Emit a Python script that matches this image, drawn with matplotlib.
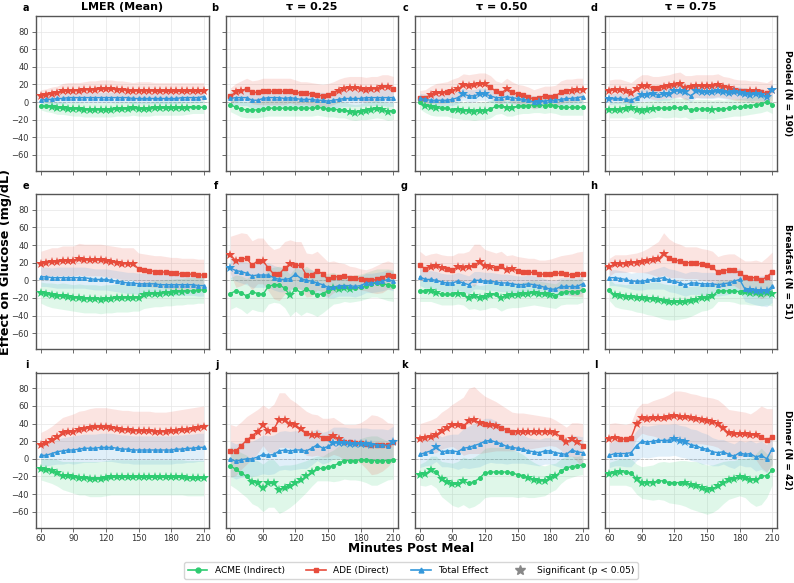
import matplotlib
matplotlib.use('Agg')
import matplotlib.pyplot as plt
from matplotlib.lines import Line2D

minutes = [60, 65, 70, 75, 80, 85, 90, 95, 100, 105, 110, 115, 120, 125, 130, 135,
           140, 145, 150, 155, 160, 165, 170, 175, 180, 185, 190, 195, 200, 205, 210]

row_labels = ['Pooled (N = 190)', 'Breakfast (N = 51)', 'Dinner (N = 42)']
col_titles = ['LMER (Mean)', 'τ = 0.25', 'τ = 0.50', 'τ = 0.75']
panel_letters = ['a', 'b', 'c', 'd', 'e', 'f', 'g', 'h', 'i', 'j', 'k', 'l']
row_keys = ['pooled', 'breakfast', 'dinner']
col_keys = ['lmer', 'q25', 'q50', 'q75']
y_ticks = [-60, -40, -20, 0, 20, 40, 60, 80]
x_ticks = [60, 90, 120, 150, 180, 210]

# ---------------- Pooled ----------------
pooled_lmer_acme = [-4,-5,-6,-7,-7,-8,-8,-8,-9,-9,-9,-9,-9,-9,-8,-8,-8,-7,-8,-8,-8,-7,-7,-7,-7,-7,-7,-7,-6,-6,-6]
pooled_lmer_acme_ci = [5,6,6,7,7,7,8,8,8,8,8,8,8,8,8,8,8,8,8,8,8,8,8,8,8,8,8,7,7,7,7]
pooled_lmer_acme_sig = [0,0,1,1,1,1,1,1,1,1,1,1,1,1,1,1,1,1,1,1,1,1,1,1,1,1,1,1,0,0,0]
pooled_lmer_ade = [7,8,9,10,12,13,13,13,14,14,14,15,15,15,14,14,13,12,13,13,13,12,12,12,12,12,12,12,12,12,12]
pooled_lmer_ade_ci = [7,7,8,8,9,9,9,9,9,10,10,10,10,10,10,10,10,10,10,10,10,10,10,10,10,10,10,10,10,10,10]
pooled_lmer_ade_sig = [1,1,1,1,1,1,1,1,1,1,1,1,1,1,1,1,1,1,1,1,1,1,1,1,1,1,1,1,1,1,1]
pooled_lmer_total = [2,3,3,4,4,5,5,5,5,5,5,5,5,5,5,5,5,4,4,4,4,4,4,4,4,4,5,5,5,5,6]
pooled_lmer_total_ci = [5,5,6,6,6,6,6,6,6,6,6,6,6,6,6,6,6,6,6,6,6,6,6,6,6,6,6,6,6,6,6]
pooled_lmer_total_sig = [0,0,0,0,0,0,0,0,0,0,0,0,0,0,0,0,0,0,0,0,0,0,0,0,0,0,0,0,0,0,0]

pooled_q25_acme = [-3,-6,-8,-9,-9,-9,-8,-7,-7,-7,-7,-7,-7,-7,-7,-7,-6,-7,-8,-8,-9,-9,-11,-12,-11,-10,-9,-8,-9,-11,-10]
pooled_q25_acme_ci = [8,8,9,9,9,9,9,9,9,9,9,9,9,9,9,9,9,9,9,9,9,9,9,9,9,10,10,10,10,10,10]
pooled_q25_acme_sig = [0,0,0,0,0,0,0,0,0,0,0,0,0,0,0,0,0,0,0,0,0,0,1,1,1,1,1,1,1,1,0]
pooled_q25_ade = [7,11,13,15,11,11,12,12,12,12,12,13,11,10,10,9,8,7,8,10,13,15,16,16,15,14,15,15,17,17,15]
pooled_q25_ade_ci = [9,10,11,12,13,14,15,15,15,15,15,14,14,13,13,13,13,13,13,13,13,13,13,13,14,14,14,14,14,14,14]
pooled_q25_ade_sig = [0,1,1,0,0,0,0,0,0,0,0,0,0,0,0,0,0,0,0,0,1,1,1,1,1,1,1,1,1,1,0]
pooled_q25_total = [4,5,5,5,2,2,4,5,5,5,4,5,4,3,3,3,2,2,1,2,3,4,4,4,4,5,5,5,5,5,5]
pooled_q25_total_ci = [8,8,9,9,9,9,9,9,9,9,9,9,9,9,9,9,9,9,9,9,9,9,9,9,9,9,9,9,9,10,10]
pooled_q25_total_sig = [0,0,0,0,0,0,0,0,0,0,0,0,0,0,0,0,0,0,0,0,0,0,0,0,0,0,0,0,0,0,0]

pooled_q50_acme = [0,-4,-6,-7,-7,-7,-9,-9,-10,-10,-11,-10,-10,-8,-5,-4,-7,-7,-5,-4,-4,-3,-3,-4,-3,-4,-6,-6,-6,-6,-6]
pooled_q50_acme_ci = [8,8,9,9,9,9,9,10,10,10,10,10,10,10,9,9,9,9,9,9,9,9,9,9,9,9,9,9,9,9,9]
pooled_q50_acme_sig = [0,1,1,1,0,0,0,1,1,1,1,1,1,0,0,0,1,1,0,0,0,0,0,0,0,0,0,0,0,0,0]
pooled_q50_ade = [5,5,8,10,10,11,13,15,19,18,19,20,20,17,12,10,15,11,9,8,6,3,5,7,6,7,11,13,13,14,14]
pooled_q50_ade_ci = [8,9,10,11,12,12,13,13,13,13,13,13,13,13,12,12,12,12,11,11,11,11,11,11,12,12,13,13,13,13,13]
pooled_q50_ade_sig = [0,0,1,1,1,0,1,1,1,1,1,1,1,0,0,0,1,0,0,0,0,0,0,0,0,0,0,0,1,1,1]
pooled_q50_total = [4,3,2,2,2,2,3,5,9,7,7,9,9,7,5,5,6,5,4,3,2,0,0,1,2,2,3,4,4,5,6]
pooled_q50_total_ci = [6,6,6,6,6,6,7,7,7,7,7,7,7,7,7,7,7,7,7,7,7,7,7,7,7,7,7,7,7,7,7]
pooled_q50_total_sig = [0,0,0,0,0,0,0,0,1,0,0,1,1,0,0,0,0,0,0,0,0,0,1,0,0,0,0,0,0,0,0]

pooled_q75_acme = [-9,-9,-9,-8,-7,-9,-10,-9,-8,-7,-7,-7,-6,-7,-6,-9,-8,-8,-8,-9,-8,-8,-7,-6,-6,-5,-4,-3,-2,0,-3]
pooled_q75_acme_ci = [9,9,9,10,10,10,10,10,10,10,11,11,11,11,11,11,11,11,11,11,11,10,10,10,10,10,10,10,10,10,10]
pooled_q75_acme_sig = [1,1,1,1,1,1,1,1,1,0,0,0,0,0,0,0,0,0,0,1,0,0,0,0,0,0,0,0,0,0,0]
pooled_q75_ade = [13,14,14,12,10,15,18,18,16,16,17,18,19,20,16,17,18,18,18,18,19,17,16,14,13,13,12,12,11,10,14]
pooled_q75_ade_ci = [12,12,12,12,12,12,13,13,13,13,13,13,14,14,14,13,13,13,13,13,13,12,12,12,12,12,12,12,12,12,12]
pooled_q75_ade_sig = [1,1,1,1,1,1,1,1,0,0,1,1,1,1,1,1,1,1,1,1,1,1,1,1,0,0,1,1,0,0,1]
pooled_q75_total = [3,4,4,3,2,5,8,8,9,8,9,9,12,13,11,7,12,11,11,11,12,11,10,11,10,9,8,9,8,6,14]
pooled_q75_total_ci = [6,6,6,6,6,6,7,7,7,7,7,7,7,7,7,7,7,7,7,7,7,7,7,7,7,7,7,7,7,7,7]
pooled_q75_total_sig = [1,0,0,0,0,0,1,1,1,0,1,1,1,1,1,0,1,1,1,1,1,1,1,1,1,1,1,1,1,1,1]

# ---------------- Breakfast ----------------
breakfast_lmer_acme = [-14,-16,-17,-18,-18,-19,-20,-20,-21,-21,-21,-22,-21,-21,-20,-20,-20,-20,-20,-17,-16,-15,-15,-14,-14,-13,-13,-12,-12,-11,-11]
breakfast_lmer_acme_ci = [12,13,14,14,15,15,15,16,16,16,16,16,16,16,16,16,16,15,15,15,15,15,15,15,15,15,15,15,15,15,15]
breakfast_lmer_acme_sig = [1,1,1,1,1,1,1,1,1,1,1,1,1,1,1,1,1,1,1,1,1,1,1,1,1,1,1,0,0,0,0]
breakfast_lmer_ade = [19,20,21,21,22,22,22,24,23,23,23,23,22,21,20,19,19,19,13,12,11,10,10,9,8,8,7,7,7,6,6]
breakfast_lmer_ade_ci = [14,15,16,16,17,17,17,18,18,18,18,18,18,18,18,18,18,18,18,18,18,18,18,18,18,18,18,18,18,18,18]
breakfast_lmer_ade_sig = [1,1,1,1,1,1,1,1,1,1,1,1,1,1,1,1,1,1,0,0,0,0,0,0,0,0,0,0,0,0,0]
breakfast_lmer_total = [4,4,3,3,3,3,3,3,3,2,1,1,1,0,-1,-2,-3,-3,-4,-4,-4,-4,-5,-5,-5,-5,-5,-5,-5,-6,-6]
breakfast_lmer_total_ci = [11,11,11,12,12,12,12,12,12,12,12,12,12,12,12,12,12,12,12,12,12,12,12,12,12,12,12,12,12,12,12]
breakfast_lmer_total_sig = [0,0,0,0,0,0,0,0,0,0,0,0,0,0,0,0,0,0,0,0,0,0,0,0,0,0,0,0,0,0,0]

breakfast_q25_acme = [-15,-12,-14,-18,-13,-15,-16,-7,-5,-5,-9,-17,-10,-14,-10,-13,-17,-15,-12,-9,-10,-9,-10,-9,-8,-6,-4,-3,-4,-5,-6]
breakfast_q25_acme_ci = [18,18,19,20,20,20,20,20,20,21,22,24,25,26,26,25,24,22,20,18,16,15,15,15,15,15,15,16,17,18,18]
breakfast_q25_acme_sig = [0,0,0,0,0,0,0,0,0,0,0,1,0,0,0,0,0,0,0,1,1,1,1,0,0,0,0,0,0,0,0]
breakfast_q25_ade = [29,22,24,25,17,22,22,14,7,7,14,18,17,17,6,6,11,7,1,4,4,5,3,3,1,0,0,1,3,6,5]
breakfast_q25_ade_ci = [21,30,30,28,28,26,26,26,28,30,30,28,27,27,25,24,22,20,20,18,16,14,13,12,12,12,14,16,17,16,15]
breakfast_q25_ade_sig = [1,1,0,0,0,0,1,0,0,0,0,1,0,0,0,0,0,0,0,0,0,0,0,0,0,0,0,0,0,0,0]
breakfast_q25_total = [14,11,10,8,5,6,6,6,3,1,1,2,7,2,0,-1,-3,-5,-8,-8,-6,-6,-6,-7,-6,-3,-3,-2,-1,1,-1]
breakfast_q25_total_ci = [12,12,13,13,13,14,14,14,14,14,14,14,14,13,13,13,12,12,12,12,12,12,12,12,11,11,11,11,11,11,11]
breakfast_q25_total_sig = [1,0,0,0,0,0,0,0,0,0,0,0,0,0,0,0,0,0,0,0,0,0,0,0,0,0,0,0,0,0,0]

breakfast_q50_acme = [-12,-12,-12,-14,-16,-16,-16,-15,-16,-20,-18,-20,-19,-17,-16,-20,-18,-17,-17,-16,-15,-14,-15,-16,-17,-18,-14,-13,-13,-13,-11]
breakfast_q50_acme_ci = [12,12,12,12,12,12,12,12,12,13,14,14,14,14,15,15,14,14,14,14,14,14,14,14,14,14,14,14,14,14,14]
breakfast_q50_acme_sig = [0,0,1,1,0,0,0,1,0,1,1,1,1,1,0,1,1,1,1,1,1,1,1,1,1,0,0,0,0,0,0]
breakfast_q50_ade = [17,13,15,16,14,13,12,15,14,15,17,21,16,15,14,16,12,13,11,10,9,9,7,7,7,8,8,7,6,7,7]
breakfast_q50_ade_ci = [16,15,15,15,15,15,16,16,17,18,24,20,19,18,17,17,16,16,16,16,16,16,16,16,17,18,20,22,24,25,26]
breakfast_q50_ade_sig = [0,0,1,1,1,0,0,1,1,1,0,1,1,1,0,0,1,1,0,0,0,0,0,0,0,0,0,0,0,0,0]
breakfast_q50_total = [4,1,1,0,-2,-3,-3,-1,-3,-5,0,0,-1,-1,-2,-3,-3,-4,-5,-5,-4,-5,-6,-8,-10,-10,-7,-7,-7,-7,-4]
breakfast_q50_total_ci = [10,10,10,10,10,10,10,10,10,10,10,10,10,10,10,10,10,10,10,10,10,10,10,10,10,10,10,10,10,10,10]
breakfast_q50_total_sig = [0,0,0,0,0,0,0,0,0,0,0,0,0,0,0,0,0,0,0,0,0,0,0,0,0,0,0,0,0,0,0]

breakfast_q75_acme = [-11,-17,-18,-19,-19,-20,-20,-21,-21,-22,-24,-25,-25,-25,-25,-24,-22,-20,-20,-18,-12,-12,-12,-12,-13,-13,-14,-14,-15,-14,-15]
breakfast_q75_acme_ci = [12,13,14,14,15,16,17,18,19,20,20,20,20,19,18,17,16,15,14,13,12,12,12,13,14,14,14,14,14,14,14]
breakfast_q75_acme_sig = [0,1,1,1,1,1,1,1,1,1,1,1,1,1,1,1,1,1,1,1,0,0,0,0,0,1,1,1,1,1,1]
breakfast_q75_ade = [15,19,19,19,20,20,21,22,23,24,30,25,23,22,20,20,20,18,17,15,9,11,12,12,8,4,3,3,0,4,9]
breakfast_q75_ade_ci = [10,10,10,10,10,11,12,14,17,20,24,22,20,19,18,18,18,18,18,18,18,18,18,18,18,18,19,20,21,22,23]
breakfast_q75_ade_sig = [1,1,1,1,1,1,1,1,1,1,1,0,0,0,0,0,0,0,0,0,0,0,0,0,0,0,0,0,0,0,0]
breakfast_q75_total = [3,3,2,1,-1,-1,-1,0,1,2,3,0,-1,-3,-5,-3,-3,-4,-4,-4,-5,-4,-3,-1,1,-10,-11,-12,-12,-12,-7]
breakfast_q75_total_ci = [9,9,9,9,9,10,10,10,11,12,13,13,13,13,13,13,13,13,13,13,13,13,13,13,13,14,15,16,17,18,18]
breakfast_q75_total_sig = [0,0,0,0,0,0,0,0,0,0,0,0,0,0,0,0,0,0,0,0,0,0,0,0,0,0,1,1,1,1,0]

# ---------------- Dinner ----------------
dinner_lmer_acme = [-12,-13,-14,-16,-19,-20,-21,-22,-22,-23,-23,-23,-22,-21,-21,-21,-21,-21,-21,-21,-21,-21,-21,-21,-21,-21,-21,-22,-22,-22,-22]
dinner_lmer_acme_ci = [12,13,14,15,16,17,18,19,19,20,20,20,20,20,20,20,20,20,20,20,20,20,20,20,20,20,20,20,20,20,20]
dinner_lmer_acme_sig = [1,1,1,1,1,1,1,1,1,1,1,1,1,1,1,1,1,1,1,1,1,1,1,1,1,1,1,1,1,1,1]
dinner_lmer_ade = [16,18,21,25,29,30,31,33,34,35,36,36,36,35,34,33,33,32,32,32,32,31,31,31,32,32,33,33,34,35,36]
dinner_lmer_ade_ci = [14,15,16,17,18,19,20,21,21,22,22,22,22,22,22,22,22,22,22,22,22,22,22,22,22,23,23,24,24,24,24]
dinner_lmer_ade_sig = [1,1,1,1,1,1,1,1,1,1,1,1,1,1,1,1,1,1,1,1,1,1,1,1,1,1,1,1,1,1,1]
dinner_lmer_total = [4,4,6,8,9,10,10,11,12,12,12,13,13,13,12,11,11,10,10,10,10,10,10,10,10,11,11,12,12,13,13]
dinner_lmer_total_ci = [12,12,13,14,15,15,16,16,16,16,16,16,16,16,16,16,16,16,16,16,16,16,16,16,16,16,16,16,16,16,16]
dinner_lmer_total_sig = [0,0,0,0,0,0,0,0,0,0,0,0,0,0,0,0,0,0,0,0,0,0,0,0,0,0,0,0,0,0,0]

dinner_q25_acme = [-8,-12,-16,-20,-26,-28,-33,-28,-28,-35,-33,-31,-28,-24,-20,-15,-11,-11,-9,-8,-5,-2,-2,-2,-1,-1,-2,-2,-2,-2,-1]
dinner_q25_acme_ci = [22,22,23,24,25,26,27,27,27,27,26,24,22,20,18,16,14,14,16,18,20,21,22,22,24,26,28,28,25,22,22]
dinner_q25_acme_sig = [0,0,0,0,1,1,1,1,1,1,1,1,1,1,1,1,0,0,0,0,0,0,0,0,0,0,0,0,0,0,0]
dinner_q25_ade = [9,9,15,21,26,31,38,32,34,44,44,40,38,34,29,27,27,24,24,26,23,19,19,18,18,17,16,16,16,16,19]
dinner_q25_ade_ci = [30,28,27,27,26,25,23,25,28,31,31,28,26,25,25,24,23,22,22,21,20,20,20,21,23,28,34,33,30,25,21]
dinner_q25_ade_sig = [0,0,0,0,0,1,1,1,0,1,1,1,1,1,0,1,1,0,0,1,1,0,0,0,0,0,0,0,0,0,0]
dinner_q25_total = [0,-3,-1,0,0,2,5,4,5,9,10,9,10,10,9,12,16,12,14,18,18,18,17,17,17,17,16,16,16,15,19]
dinner_q25_total_ci = [20,20,20,20,20,21,22,22,22,22,22,22,22,21,20,19,18,18,18,18,18,18,18,18,18,18,18,18,18,18,18]
dinner_q25_total_sig = [0,0,0,0,0,0,0,0,0,0,0,0,0,0,0,0,0,0,0,1,1,1,1,1,1,1,1,0,0,0,1]

dinner_q50_acme = [-18,-17,-13,-15,-23,-26,-29,-29,-25,-28,-26,-22,-16,-15,-15,-15,-15,-16,-18,-19,-22,-24,-25,-25,-22,-20,-14,-10,-9,-8,-7]
dinner_q50_acme_ci = [12,14,16,18,20,22,24,26,27,28,28,28,28,28,28,28,28,27,26,24,22,20,18,17,16,15,14,13,12,11,11]
dinner_q50_acme_sig = [1,1,1,0,1,1,1,1,1,0,0,0,0,0,0,0,0,0,0,0,1,1,1,1,1,1,0,0,0,0,0]
dinner_q50_ade = [23,24,25,27,32,35,38,38,37,43,44,41,39,38,37,35,33,31,31,31,31,31,31,31,31,29,25,19,22,19,15]
dinner_q50_ade_ci = [17,18,19,20,21,22,24,28,33,37,38,35,32,30,28,26,24,22,21,21,20,19,18,17,16,15,15,17,19,22,25]
dinner_q50_ade_sig = [1,1,1,1,1,1,1,1,0,1,1,1,0,1,1,0,0,0,1,1,1,1,1,1,1,1,0,1,1,1,0]
dinner_q50_total = [5,7,9,13,8,9,9,8,12,13,15,17,20,21,19,17,14,13,12,11,9,8,7,9,9,7,6,5,10,8,7]
dinner_q50_total_ci = [15,15,16,16,17,18,19,20,22,24,25,26,26,25,24,22,20,18,17,16,15,15,15,15,15,15,16,17,17,18,18]
dinner_q50_total_sig = [0,0,0,1,0,0,0,0,0,0,0,0,0,0,0,0,0,0,0,0,0,0,0,0,0,0,0,0,0,0,0]

dinner_q75_acme = [-17,-16,-15,-15,-16,-23,-27,-27,-27,-25,-25,-27,-27,-27,-28,-30,-31,-33,-35,-34,-31,-27,-24,-23,-21,-22,-24,-24,-20,-19,-13]
dinner_q75_acme_ci = [13,14,15,15,16,17,18,19,20,21,22,23,24,25,26,27,28,28,28,27,26,24,22,21,21,22,26,30,32,25,17]
dinner_q75_acme_sig = [1,1,1,0,0,1,1,1,1,0,0,0,0,0,1,1,1,1,1,1,1,1,1,1,1,1,1,1,0,0,0]
dinner_q75_ade = [23,24,23,22,24,40,46,45,46,46,46,47,49,48,47,46,45,44,43,42,40,35,29,28,28,28,27,27,25,21,25]
dinner_q75_ade_ci = [17,17,17,17,17,17,17,18,20,22,24,26,28,29,29,28,28,27,27,27,27,27,27,27,26,25,24,28,35,36,32]
dinner_q75_ade_sig = [1,1,0,0,0,1,1,1,1,1,1,1,1,1,1,1,1,1,1,1,1,1,1,1,1,1,1,1,0,0,0]
dinner_q75_total = [4,6,6,6,7,15,20,19,20,21,21,21,22,20,19,16,15,12,11,8,7,8,5,3,7,5,6,2,4,0,11]
dinner_q75_total_ci = [14,14,14,15,16,17,18,18,18,18,18,18,18,18,18,18,18,18,17,16,15,14,14,14,14,14,15,16,16,16,16]
dinner_q75_total_sig = [0,0,0,0,0,0,0,0,0,0,0,0,1,1,1,0,0,0,0,0,0,0,0,0,0,0,0,0,0,0,0]

series_keys = ['acme', 'ade', 'total']
series_names = ['ACME (Indirect)', 'ADE (Direct)', 'Total Effect']
series_colors = ['#2ecc71', '#e74c3c', '#3498db']
series_markers = ['o', 's', '^']

g = globals()

W, H = 794, 583
fig = plt.figure(figsize=(W / 100, H / 100), dpi=100)
ax_left = [36, 225.5, 415, 604.5]
ax_top = [15.7, 194, 372.5]
ax_w, ax_h = 172.5, 155

for r in range(3):
    for c in range(4):
        ax = fig.add_axes([ax_left[c] / W, 1 - (ax_top[r] + ax_h) / H, ax_w / W, ax_h / H])
        ax.set_xlim(55.5, 214.5)
        ax.set_ylim(-78, 98)
        ax.set_xticks(x_ticks)
        ax.set_yticks(y_ticks)
        ax.grid(True, color='#e6e6e6', lw=0.5)
        ax.set_axisbelow(True)
        ax.axhline(0, color='#999999', lw=0.6, ls='--', alpha=0.6, zorder=1)
        for sp in ax.spines.values():
            sp.set_color('#555555')
            sp.set_linewidth(1.0)
        ax.tick_params(labelsize=6, length=3, width=0.6, color='#555555', labelcolor='#333333', pad=2)
        if c != 0:
            ax.tick_params(labelleft=False)
        if r != 2:
            ax.tick_params(labelbottom=False)
        base = row_keys[r] + '_' + col_keys[c]
        for k, key in enumerate(series_keys):
            y = g[base + '_' + key]
            ci = g[base + '_' + key + '_ci']
            lo = [a - b for a, b in zip(y, ci)]
            hi = [a + b for a, b in zip(y, ci)]
            ax.fill_between(minutes, lo, hi, color=series_colors[k], alpha=0.15, lw=0, zorder=2)
        for k, key in enumerate(series_keys):
            y = g[base + '_' + key]
            sig = g[base + '_' + key + '_sig']
            col = series_colors[k]
            ax.plot(minutes, y, color=col, lw=1.0, zorder=4 + k)
            xs_n = [m for m, s in zip(minutes, sig) if not s]
            ys_n = [v for v, s in zip(y, sig) if not s]
            xs_s = [m for m, s in zip(minutes, sig) if s]
            ys_s = [v for v, s in zip(y, sig) if s]
            ax.plot(xs_n, ys_n, ls='none', marker=series_markers[k], ms=2.6, color=col, zorder=4 + k)
            ax.plot(xs_s, ys_s, ls='none', marker='*', ms=7.5, color=col, mew=0, zorder=4 + k)
        ax.text(-0.04, 1.017, panel_letters[r * 4 + c], transform=ax.transAxes,
                fontsize=7, fontweight='bold', ha='right', va='bottom')
        if r == 0:
            ax.set_title(col_titles[c], fontsize=8, fontweight='bold', pad=4)
        if c == 3:
            fig.text(788 / W, 1 - (ax_top[r] + ax_h / 2) / H, row_labels[r], rotation=270,
                     fontsize=6.5, fontweight='bold', ha='center', va='center')

fig.text(6 / W, 1 - 262 / H, 'Effect on Glucose (mg/dL)', rotation=90, fontsize=9.2,
         fontweight='bold', ha='center', va='center')
fig.text(411 / W, 1 - 549 / H, 'Minutes Post Meal', fontsize=8.7, fontweight='bold',
         ha='center', va='center')

handles = [Line2D([0], [0], color=series_colors[k], marker=series_markers[k], ms=3.5, lw=1.2)
           for k in range(3)]
handles.append(Line2D([0], [0], color='#888888', marker='*', ms=7, ls='none'))
labels = series_names + ['Significant (p < 0.05)']
fig.legend(handles, labels, loc='center', bbox_to_anchor=(411 / W, 1 - 570.5 / H), ncol=4,
           fontsize=6.5, frameon=True, edgecolor='#cccccc', fancybox=True,
           handlelength=2.2, columnspacing=2.4, borderpad=0.4)

fig.savefig('out.png', dpi=100)
